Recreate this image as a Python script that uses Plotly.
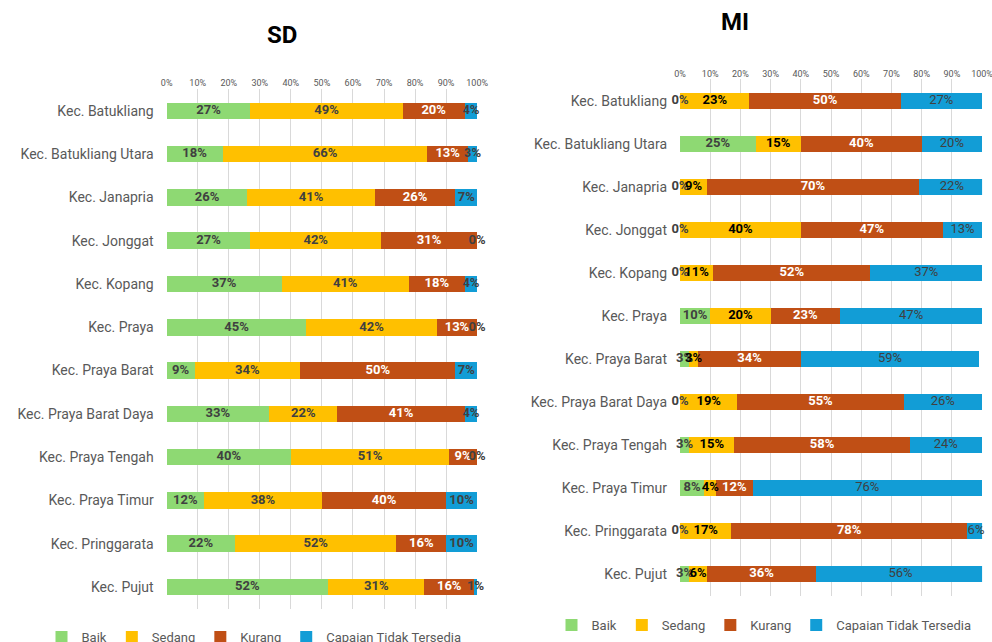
import plotly.graph_objects as go

categories = ["Kec. Batukliang", "Kec. Batukliang Utara", "Kec. Janapria", "Kec. Jonggat",
              "Kec. Kopang", "Kec. Praya", "Kec. Praya Barat", "Kec. Praya Barat Daya",
              "Kec. Praya Tengah", "Kec. Praya Timur", "Kec. Pringgarata", "Kec. Pujut"]
series_names = ["Baik", "Sedang", "Kurang", "Capaian Tidak Tersedia"]

sd_baik = [27, 18, 26, 27, 37, 45, 9, 33, 40, 12, 22, 52]
sd_sedang = [49, 66, 41, 42, 41, 42, 34, 22, 51, 38, 52, 31]
sd_kurang = [20, 13, 26, 31, 18, 13, 50, 41, 9, 40, 16, 16]
sd_tidak = [4, 3, 7, 0, 4, 0, 7, 4, 0, 10, 10, 1]

mi_baik = [0, 25, 0, 0, 0, 10, 3, 0, 3, 8, 0, 3]
mi_sedang = [23, 15, 9, 40, 11, 20, 3, 19, 15, 4, 17, 6]
mi_kurang = [50, 40, 70, 47, 52, 23, 34, 55, 58, 12, 78, 36]
mi_tidak = [27, 20, 22, 13, 37, 47, 59, 26, 24, 76, 6, 56]

tick_vals = list(range(0, 101, 10))
tick_text = [f"{v}%" for v in tick_vals]

colors = ["#8ED973", "#FFC000", "#C04F15", "#129DD6"]
FONT = "Roboto"

fig = go.Figure()

def add_panel(series, xa, ya, legend, text_styles, size):
    cum = [0] * len(categories)
    for name, vals, col, (tcol, tw) in zip(series_names, series, colors, text_styles):
        fig.add_trace(go.Bar(
            y=categories, x=vals, name=name, orientation="h",
            marker=dict(color=col, line=dict(width=0)),
            xaxis=xa, yaxis=ya, legend=legend, hoverinfo="skip"))
        mids = [c + v / 2 for c, v in zip(cum, vals)]
        fig.add_trace(go.Scatter(
            x=mids, y=categories, mode="text", text=[f"{v}%" for v in vals],
            textposition="middle center",
            textfont=dict(family=FONT, size=size, color=tcol, weight=tw),
            xaxis=xa, yaxis=ya, showlegend=False, hoverinfo="skip", cliponaxis=False))
        cum = [c + v for c, v in zip(cum, vals)]

add_panel([sd_baik, sd_sedang, sd_kurang, sd_tidak], "x", "y", "legend",
          [("#404040", "bold"), ("#404040", "bold"), ("#FFFFFF", "bold"), ("#404040", "bold")], 13)
add_panel([mi_baik, mi_sedang, mi_kurang, mi_tidak], "x2", "y2", "legend2",
          [("#404040", "bold"), ("#000000", "bold"), ("#FFFFFF", "bold"), ("#404040", "normal")], 13)

xcommon = dict(range=[0, 100], tickvals=tick_vals, ticktext=tick_text, side="top",
               showgrid=True, gridcolor="#D9D9D9", gridwidth=1, zeroline=False,
               tickfont=dict(family=FONT, size=9, color="#595959"), fixedrange=True,
               showline=False, ticks="", automargin=False, ticklabeloverflow="allow")
ycommon = dict(type="category", categoryorder="array", categoryarray=categories,
               range=[11.5, -0.5], showgrid=False, zeroline=False,
               tickfont=dict(family=FONT, size=14, color="#595959"), ticks="",
               ticklabelstandoff=12, automargin=False)

legcommon = dict(orientation="h", xanchor="center", yanchor="middle", xref="container",
                 yref="container", font=dict(family=FONT, size=13, color="#595959"),
                 traceorder="normal", itemwidth=30, bgcolor="rgba(0,0,0,0)")

fig.update_layout(
    width=992, height=642, margin=dict(l=0, r=0, t=0, b=0, autoexpand=False),
    paper_bgcolor="white", plot_bgcolor="white",
    barmode="stack", bargap=0.62,
    font=dict(family=FONT, color="#595959"),
    xaxis=dict(domain=[0.168, 0.481], anchor="y", **xcommon),
    yaxis=dict(domain=[0.052, 0.861], anchor="x", **ycommon),
    xaxis2=dict(domain=[0.6855, 0.99], anchor="y2", **xcommon),
    yaxis2=dict(domain=[0.0724, 0.8762], anchor="x2", **ycommon),
    legend=dict(x=254 / 992, y=1 - 637 / 642, **legcommon),
    legend2=dict(x=764 / 992, y=1 - 625 / 642, **legcommon),
    showlegend=True,
    annotations=[
        dict(text="<b>SD</b>", x=0.284, y=1 - 35 / 642, xref="paper", yref="paper",
             yanchor="middle", xanchor="center",
             showarrow=False, font=dict(family=FONT, size=24, color="#000000")),
        dict(text="<b>MI</b>", x=0.741, y=1 - 22 / 642, xref="paper", yref="paper",
             yanchor="middle", xanchor="center",
             showarrow=False, font=dict(family=FONT, size=24, color="#000000")),
    ],
)

fig.write_html("out.html", config={"displayModeBar": False},
               post_script="document.body.style.margin='0';document.body.style.padding='0';")
